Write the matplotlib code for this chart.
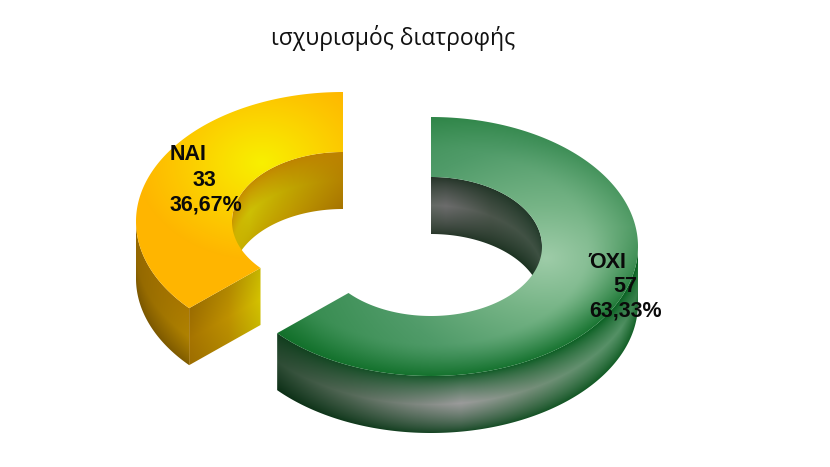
import numpy as np
import matplotlib
matplotlib.use("Agg")
import matplotlib.pyplot as plt
from matplotlib.patches import Polygon

title = "ισχυρισμός διατροφής"
categories = ["ΝΑΙ", "ΌΧΙ"]
counts = [33, 57]
percent_labels = ["36,67%", "63,33%"]

# ellipse sizes of the ring, in pixels
RX_OUT, RY_OUT = 207, 129.5
RX_IN, RY_IN = 111, 69.5
DEPTH = 57
YELLOW_C = (343, 221.5)
GREEN_C = (431, 246.5)

W, H = 830, 467
X, Y = np.meshgrid(np.arange(W) + 0.5, np.arange(H) + 0.5)


def arc(c, rx, ry, t0, t1, dz=0):
    t = np.radians(np.linspace(t0, t1, 200))
    return np.column_stack([c[0] + rx * np.sin(t), c[1] - ry * np.cos(t) + dz])


def lerp_stops(u, stops):
    pos = [s[0] for s in stops]
    return np.stack([np.interp(u, pos, [s[1][i] for s in stops]) for i in range(3)], axis=-1)


def paint(ax, rgb, pts, z):
    poly = Polygon(pts, closed=True, facecolor="none", edgecolor="none", transform=ax.transData)
    ax.add_patch(poly)
    im = ax.imshow(np.clip(rgb, 0, 255).astype(np.uint8), extent=(0, W, H, 0),
                   interpolation="nearest", zorder=z, aspect="auto")
    im.set_clip_path(poly)


def band(c, rx, ry, t0, t1):
    a = arc(c, rx, ry, t0, t1)
    b = arc(c, rx, ry, t1, t0, DEPTH)
    return np.vstack([a, b])


def wall_z(c, rx, ry, lower):
    # 0 at the rim of the ellipse, 1 at the bottom of the wall
    s = np.sqrt(np.clip(1 - ((X - c[0]) / rx) ** 2, 0, 1))
    rim = c[1] + ry * s if lower else c[1] - ry * s
    return np.clip((Y - rim) / DEPTH, 0, 1)


def wall_shade(xstops, edge_top, edge_bot, z, p=0.8):
    mid = lerp_stops(X, xstops)
    top = lerp_stops(X, edge_top)
    bot = lerp_stops(X, edge_bot)
    # rises from the rim to the middle, falls to the bottom
    up = np.clip(z / 0.5, 0, 1) ** p
    down = np.clip((1 - z) / 0.5, 0, 1) ** p
    up = up[..., None]
    down = down[..., None]
    return np.where(z[..., None] < 0.5, top + (mid - top) * up, bot + (mid - bot) * down)


def green_top():
    c = GREEN_C
    u = np.sqrt(((X - 545) / 250) ** 2 + ((Y - 258) / 175) ** 2)
    base = lerp_stops(u, [(0, (158, 204, 168)), (0.3, (118, 180, 134)), (0.65, (80, 155, 105)),
                          (1.0, (55, 140, 80)), (1.3, (25, 115, 45))])
    rho = np.sqrt(((X - c[0]) / RX_OUT) ** 2 + ((Y - c[1]) / RY_OUT) ** 2)
    w = np.clip((rho - 0.75) / 0.25, 0, 1) ** 1.4
    w = w * (0.3 + 0.6 * np.clip((Y - c[1] + 20) / 90, 0, 1))
    return base + ((np.array([15, 110, 40]) - base) * w[..., None])


def yellow_top():
    u = np.sqrt(((X - 262) / 110) ** 2 + ((Y - 163) / 85) ** 2)
    return lerp_stops(u, [(0, (248, 240, 0)), (0.35, (250, 222, 0)), (0.8, (253, 198, 0)),
                          (1.15, (255, 181, 0))])


def draw_yellow(ax, sweep):
    c = YELLOW_C
    t0, t1 = 360 - sweep, 360
    # wall of the hole, back side
    z = wall_z(c, RX_IN, RY_IN, False)
    inner = wall_shade(
        [(232, (205, 175, 0)), (250, (205, 192, 5)), (290, (192, 165, 0)), (343, (180, 130, 0))],
        [(232, (200, 140, 0)), (290, (190, 130, 0)), (343, (190, 130, 0))],
        [(232, (200, 180, 0)), (290, (190, 150, 0)), (343, (165, 115, 0))], z)
    paint(ax, inner, band(c, RX_IN, RY_IN, 270, 360), 2)
    # outer wall, front left
    z = wall_z(c, RX_OUT, RY_OUT, True)
    outer = wall_shade(
        [(135, (145, 102, 0)), (188, (175, 130, 0))],
        [(135, (150, 105, 0)), (188, (170, 120, 0))],
        [(135, (120, 85, 0)), (188, (125, 90, 0))], z)
    paint(ax, outer, band(c, RX_OUT, RY_OUT, t0, 270), 2)
    # cut face
    a_out, a_in = arc(c, RX_OUT, RY_OUT, t0, t0)[0], arc(c, RX_IN, RY_IN, t0, t0)[0]
    f = np.clip((X - a_out[0]) / (a_in[0] - a_out[0]), 0, 1)
    cz = np.clip((Y - (a_out[1] + (a_in[1] - a_out[1]) * f)) / DEPTH, 0, 1)
    cut = lerp_stops(f, [(0, (165, 115, 0)), (0.55, (190, 145, 0)), (1, (212, 195, 0))])
    cut = cut * (1 - 0.12 * np.abs(cz - 0.55))[..., None]
    pts = np.array([a_out, a_in, a_in + [0, DEPTH], a_out + [0, DEPTH]])
    paint(ax, cut, pts, 2)
    # top face
    pts = np.vstack([arc(c, RX_OUT, RY_OUT, t0, t1), arc(c, RX_IN, RY_IN, t1, t0)])
    paint(ax, yellow_top(), pts, 3)


def draw_green(ax, sweep):
    c = GREEN_C
    z = wall_z(c, RX_IN, RY_IN, False)
    inner = wall_shade(
        [(431, (100, 105, 100)), (445, (108, 108, 108)), (490, (75, 85, 75)), (542, (60, 80, 65))],
        [(431, (35, 50, 38)), (542, (30, 55, 38))],
        [(431, (40, 55, 42)), (542, (25, 50, 32))], z)
    paint(ax, inner, band(c, RX_IN, RY_IN, 0, 90), 2)
    z = wall_z(c, RX_OUT, RY_OUT, True)
    outer = wall_shade(
        [(277, (45, 75, 52)), (350, (85, 105, 88)), (460, (155, 155, 155)), (530, (118, 142, 122)),
         (620, (82, 145, 100)), (638, (50, 125, 70))],
        [(277, (15, 60, 28)), (400, (20, 85, 40)), (638, (10, 100, 35))],
        [(277, (10, 45, 20)), (460, (20, 70, 35)), (638, (10, 90, 30))], z)
    paint(ax, outer, band(c, RX_OUT, RY_OUT, 90, sweep), 2)
    pts = np.vstack([arc(c, RX_OUT, RY_OUT, 0, sweep), arc(c, RX_IN, RY_IN, sweep, 0)])
    paint(ax, green_top(), pts, 3)


total = sum(counts)
sweeps = [v / total * 360 for v in counts]

fig = plt.figure(figsize=(8.3, 4.67), dpi=100, facecolor="white")
ax = fig.add_axes([0, 0, 1, 1])
draw_yellow(ax, sweeps[0])
draw_green(ax, sweeps[1])
ax.set_xlim(0, W)
ax.set_ylim(H, 0)
ax.axis("off")

ax.text(393.5, 38, title, fontsize=16.5, family="Open Sans", ha="center", va="center", color="#111111")

label_font = dict(fontsize=15.5, family="Liberation Sans", fontweight="bold", color="#0a0a0a", zorder=5)
ax.text(170, 155, categories[0], ha="left", va="center", **label_font)
ax.text(204, 180, str(counts[0]), ha="center", va="center", **label_font)
ax.text(170, 205, percent_labels[0], ha="left", va="center", **label_font)
ax.text(588, 263, categories[1], ha="left", va="center", **label_font)
ax.text(625, 287, str(counts[1]), ha="center", va="center", **label_font)
ax.text(589, 311, percent_labels[1], ha="left", va="center", **label_font)

fig.savefig("out.png", dpi=100)
